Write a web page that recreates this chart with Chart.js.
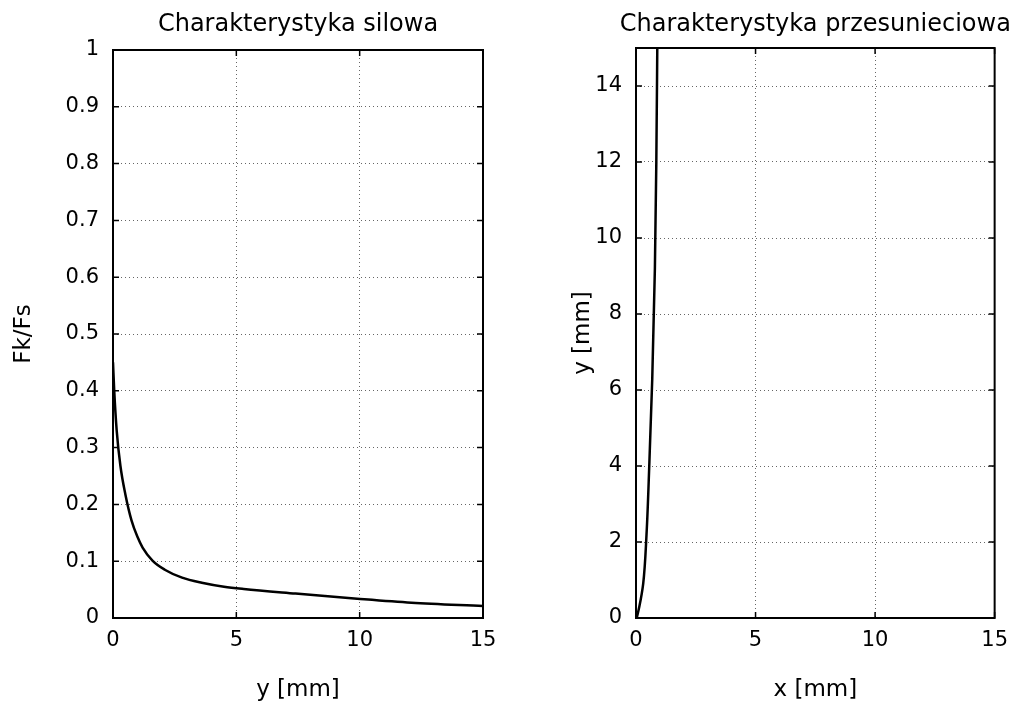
<!DOCTYPE html>
<html>
<head>
<meta charset="utf-8">
<script src="https://cdn.jsdelivr.net/npm/chart.js@4/dist/chart.umd.min.js"></script>
<style>
  html, body { margin: 0; padding: 0; background: #fff; }
  #wrap { position: relative; width: 1018px; height: 708px; overflow: hidden; }
  canvas { position: absolute; top: 0; }
  #left { left: 0; }
  #right { left: 545px; }
</style>
</head>
<body>
<div id="wrap">
  <canvas id="left" width="520" height="708"></canvas>
  <canvas id="right" width="473" height="708"></canvas>
</div>
<script>
// dane - charakterystyka silowa
const silaY = [0, 0.05, 0.15, 0.3, 0.5, 0.75, 1.0, 1.2, 1.6, 2.1, 2.8, 3.6, 4.5, 5.3, 7.4, 9.9, 12.1, 15];
const silaFkFs = [0.45, 0.40, 0.33, 0.268, 0.218, 0.172, 0.142, 0.124, 0.101, 0.085, 0.071, 0.062, 0.055, 0.051, 0.043, 0.034, 0.027, 0.021];

// dane - charakterystyka przesunieciowa
const przesY = [0, 0.3, 0.9, 2.2, 4.1, 6.3, 9.2, 12, 15];
const przesX = [0.03, 0.14, 0.3, 0.44, 0.56, 0.68, 0.79, 0.85, 0.89];

// podzialki
const leftXTicks = [0, 5, 10, 15];
const leftYTicks = [0, 0.1, 0.2, 0.3, 0.4, 0.5, 0.6, 0.7, 0.8, 0.9, 1];
const rightXTicks = [0, 5, 10, 15];
const rightYTicks = [0, 2, 4, 6, 8, 10, 12, 14];

const FONT = 'DejaVu Sans';

// ramka, znaczniki do srodka i tytul nad obszarem wykresu
const framePlugin = {
  id: 'frame',
  afterDatasetsDraw(chart) {
    const { ctx, chartArea: a, scales: { x, y } } = chart;
    ctx.save();
    ctx.strokeStyle = '#000';
    ctx.lineWidth = 1.5;
    ctx.beginPath();
    x.ticks.forEach(t => {
      const px = x.getPixelForValue(t.value);
      ctx.moveTo(px, a.bottom); ctx.lineTo(px, a.bottom - 6);
      ctx.moveTo(px, a.top); ctx.lineTo(px, a.top + 6);
    });
    y.ticks.forEach(t => {
      const py = y.getPixelForValue(t.value);
      ctx.moveTo(a.left, py); ctx.lineTo(a.left + 6, py);
      ctx.moveTo(a.right, py); ctx.lineTo(a.right - 6, py);
    });
    ctx.stroke();
    ctx.lineWidth = 2;
    ctx.strokeRect(a.left, a.top, a.width, a.height);

    // tytul
    const title = chart.options.plugins.frame.title;
    ctx.fillStyle = '#000';
    ctx.font = '24px "' + FONT + '"';
    ctx.textAlign = 'center';
    ctx.textBaseline = 'middle';
    ctx.fillText(title, (a.left + a.right) / 2, 25);
    ctx.restore();
  }
};

function axis(min, max, ticks, titleText, isX, fitSize, titlePad) {
  return {
    type: 'linear',
    min: min,
    max: max,
    afterBuildTicks: scale => { scale.ticks = ticks.map(v => ({ value: v })); },
    afterFit: scale => {
      if (isX) scale.height = fitSize; else scale.width = fitSize;
    },
    grid: {
      color: 'rgba(0,0,0,0.6)',
      lineWidth: 1,
      drawTicks: false
    },
    border: { display: false, dash: [1, 3] },
    ticks: {
      color: '#000',
      padding: isX ? 10 : 14,
      font: { family: FONT, size: 21 },
      callback: v => String(v)
    },
    title: {
      display: true,
      text: titleText,
      color: '#000',
      font: { family: FONT, size: 23 },
      padding: isX ? { top: 0, bottom: 4 } : { top: titlePad, bottom: 0 }
    }
  };
}

function makeChart(id, data, titleText, xAxis, yAxis, pad, indexAxis) {
  return new Chart(document.getElementById(id), {
    type: 'line',
    data: {
      datasets: [{
        data: data,
        borderColor: '#000',
        borderWidth: 2.5,
        pointRadius: 0,
        fill: false,
        cubicInterpolationMode: 'monotone'
      }]
    },
    options: {
      responsive: false,
      animation: false,
      indexAxis: indexAxis,
      layout: { padding: pad },
      plugins: {
        legend: { display: false },
        tooltip: { enabled: false },
        title: { display: false },
        frame: { title: titleText }
      },
      scales: { x: xAxis, y: yAxis }
    },
    plugins: [framePlugin]
  });
}

document.addEventListener('DOMContentLoaded', () => {
  const leftData = silaY.map((v, i) => ({ x: v, y: silaFkFs[i] }));
  const rightData = przesY.map((v, i) => ({ x: przesX[i], y: v }));

  makeChart('left', leftData, 'Charakterystyka silowa',
    axis(0, 15, leftXTicks, 'y [mm]', true, 90),
    axis(0, 1, leftYTicks, 'Fk/Fs', false, 107, 4),
    { left: 6, right: 37, top: 50, bottom: 0 }, 'x');

  makeChart('right', rightData, 'Charakterystyka przesunieciowa',
    axis(0, 15, rightXTicks, 'x [mm]', true, 90),
    axis(0, 15, rightYTicks, 'y [mm]', false, 91, 24),
    { left: 0, right: 22, top: 48, bottom: 0 }, 'y');
});
</script>
</body>
</html>
